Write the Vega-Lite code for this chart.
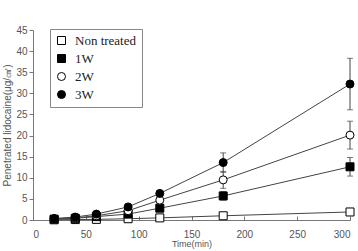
{
  "$schema": "https://vega.github.io/schema/vega-lite/v6.json",
  "width": 317,
  "height": 190,
  "autosize": "none",
  "padding": {"left": 33, "top": 30, "right": 8, "bottom": 31},
  "background": "white",
  "config": {"view": {"stroke": null}},
  "data": {"values": [
    {"series": "Non treated", "t": 20, "y": 0.05, "err": 0},
    {"series": "Non treated", "t": 40, "y": 0.1, "err": 0},
    {"series": "Non treated", "t": 60, "y": 0.15, "err": 0},
    {"series": "Non treated", "t": 90, "y": 0.3, "err": 0.1},
    {"series": "Non treated", "t": 120, "y": 0.5, "err": 0.1},
    {"series": "Non treated", "t": 180, "y": 1.0, "err": 0.2},
    {"series": "Non treated", "t": 300, "y": 1.9, "err": 0.5},
    {"series": "1W", "t": 20, "y": 0.2, "err": 0.05},
    {"series": "1W", "t": 40, "y": 0.4, "err": 0.1},
    {"series": "1W", "t": 60, "y": 0.8, "err": 0.1},
    {"series": "1W", "t": 90, "y": 1.4, "err": 0.2},
    {"series": "1W", "t": 120, "y": 2.8, "err": 0.3},
    {"series": "1W", "t": 180, "y": 5.7, "err": 1.0},
    {"series": "1W", "t": 300, "y": 12.6, "err": 2.2},
    {"series": "2W", "t": 20, "y": 0.3, "err": 0.05},
    {"series": "2W", "t": 40, "y": 0.5, "err": 0.1},
    {"series": "2W", "t": 60, "y": 1.0, "err": 0.1},
    {"series": "2W", "t": 90, "y": 2.2, "err": 0.3},
    {"series": "2W", "t": 120, "y": 4.7, "err": 0.5},
    {"series": "2W", "t": 180, "y": 9.5, "err": 2.0},
    {"series": "2W", "t": 300, "y": 20.1, "err": 3.3},
    {"series": "3W", "t": 20, "y": 0.35, "err": 0.05},
    {"series": "3W", "t": 40, "y": 0.7, "err": 0.1},
    {"series": "3W", "t": 60, "y": 1.4, "err": 0.2},
    {"series": "3W", "t": 90, "y": 3.1, "err": 0.3},
    {"series": "3W", "t": 120, "y": 6.3, "err": 0.6},
    {"series": "3W", "t": 180, "y": 13.6, "err": 2.3},
    {"series": "3W", "t": 300, "y": 32.2, "err": 6.1}
  ]},
  "encoding": {
    "x": {"field": "t", "type": "quantitative",
      "scale": {"domain": [0, 300], "nice": false},
      "axis": {"title": "Time(min)", "values": [0, 50, 100, 150, 200, 250, 300], "grid": false,
        "domainColor": "#777", "tickColor": "#777", "tickSize": -4, "labelPadding": 13,
        "labelFont": "Liberation Sans", "labelFontSize": 10, "labelColor": "#555",
        "titleFont": "Liberation Sans", "titleFontSize": 9, "titleFontWeight": "normal", "titleColor": "#555", "titlePadding": 0}},
    "y": {"field": "y", "type": "quantitative",
      "scale": {"domain": [0, 45], "nice": false},
      "axis": {"title": "Penetrated lidocaine(μg/㎠)", "values": [0, 5, 10, 15, 20, 25, 30, 35, 40, 45], "grid": false,
        "domainColor": "#777", "tickColor": "#777", "tickSize": 4, "labelPadding": 2,
        "labelFont": "Liberation Sans", "labelFontSize": 10, "labelColor": "#555",
        "titleFont": "Liberation Sans", "titleFontSize": 10, "titleFontWeight": "normal", "titleColor": "#555", "titlePadding": 3}}
  },
  "layer": [
    {"mark": {"type": "line", "color": "#444", "strokeWidth": 1},
     "encoding": {"detail": {"field": "series"}}},
    {"mark": {"type": "errorbar", "ticks": {"size": 6, "color": "#444"}, "rule": {"color": "#444"}},
     "encoding": {"yError": {"field": "err"}, "detail": {"field": "series"}}},
    {"mark": {"type": "point", "filled": false, "opacity": 1, "size": 64, "stroke": "black", "strokeWidth": 1},
     "encoding": {
       "shape": {"field": "series", "type": "nominal",
         "scale": {"domain": ["Non treated", "1W", "2W", "3W"], "range": ["square", "square", "circle", "circle"]},
         "legend": {"title": null, "orient": "none", "legendX": 17, "legendY": -1,
           "strokeColor": "#888", "padding": 5, "rowPadding": 4, "symbolSize": 64, "symbolStrokeWidth": 1,
           "labelFont": "Liberation Serif", "labelFontSize": 13, "labelColor": "#222", "labelOffset": 7, "fillColor": "white", "labelLimit": 200}},
       "fill": {"field": "series", "type": "nominal",
         "scale": {"domain": ["Non treated", "1W", "2W", "3W"], "range": ["white", "black", "white", "black"]},
         "legend": {"title": null, "orient": "none", "legendX": 17, "legendY": -1,
           "strokeColor": "#888", "padding": 5, "rowPadding": 4, "symbolSize": 64, "symbolStrokeWidth": 1,
           "labelFont": "Liberation Serif", "labelFontSize": 13, "labelColor": "#222", "labelOffset": 7, "fillColor": "white", "labelLimit": 200}}
     }}
  ]
}
